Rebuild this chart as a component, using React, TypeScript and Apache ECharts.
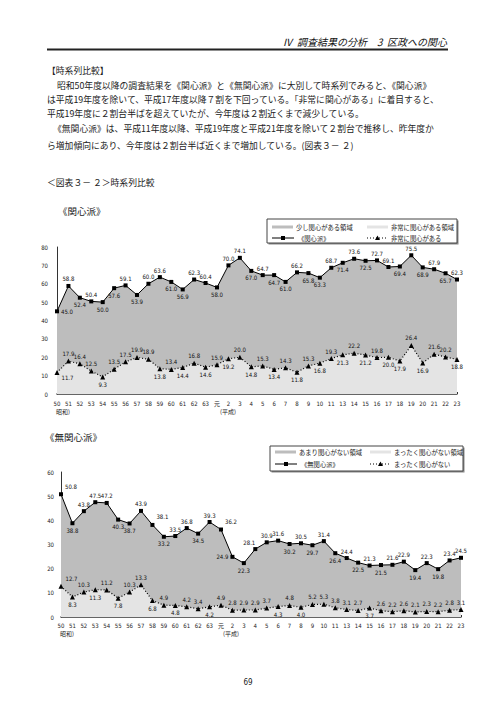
import React, { useEffect, useRef } from 'react';
import * as echarts from 'echarts';

const categories = ['50','51','52','53','54','55','56','57','58','59','60','61','62','63','元','2','3','4','5','6','7','8','9','10','11','13','14','15','16','17','18','19','20','21','22','23'];

const kanshinTotal = [45.0,58.8,52.4,50.4,50.0,57.6,59.1,53.9,60.0,63.6,61.0,56.9,62.3,60.4,58.0,70.0,74.1,67.0,64.7,64.7,61.0,66.2,65.8,63.3,68.7,71.4,73.6,72.5,72.7,69.1,69.4,75.5,68.9,67.9,65.7,62.3];
const hijouniKanshin = [11.7,17.9,16.4,12.5,9.3,13.5,17.5,19.9,18.9,13.8,13.4,14.4,16.8,14.6,15.9,19.2,20.0,14.8,15.3,13.4,14.3,11.8,15.3,16.8,19.3,21.3,22.2,21.2,19.8,20.0,17.9,26.4,16.9,21.6,20.2,18.8];
const mukanshinTotal = [50.8,38.8,43.8,47.5,47.2,40.3,38.7,43.9,38.1,33.2,33.5,36.8,34.5,39.3,36.2,24.9,22.3,28.1,30.9,31.6,30.2,30.5,29.7,31.4,26.4,24.4,22.5,21.3,21.5,21.6,22.9,19.4,22.3,19.8,23.4,24.5];
const mattakuMukanshin = [12.7,8.3,10.3,11.3,11.2,7.8,10.3,13.3,6.8,4.9,4.8,4.2,3.4,4.2,4.9,2.8,2.9,2.9,3.7,4.3,4.8,4.0,5.2,5.3,3.8,3.1,2.7,3.7,2.6,2.2,2.6,2.1,2.3,2.2,2.8,3.1];

// label placement codes, one per point
const posKanshin = 'rtbtb' + 'btbtt' + 'bbttb' + 'ttbtb' + 'btbbt' + 'btbtt' + 'btbtb' + 't';
const posHijouni = 'Rtttb' + 'ttttb' + 'tbtbt' + 'btbtb' + 'tbtbt' + 'btbtb' + 'btbtt' + 'b';
const posMukanshin = 'Ubttt' + 'bbtUb' + 'ttbtU' + 'lbLtt' + 'btbtb' + 'tbtbt' + 'tbtbt' + 't';
const posMattaku = 'Ubtbt' + 'bttbt' + 'bttbt' + 'ttttb' + 'tbttt' + 'ttbtt' + 'ttttt' + 't';

const NUM_FONT = '"DejaVu Sans Condensed", "Liberation Sans Narrow", "Noto Sans CJK JP", sans-serif';
const JP_FONT = '"Noto Sans CJK JP", sans-serif';

function labelFor(code: string) {
  switch (code) {
    case 't': return { position: 'top', offset: [0, 0] };
    case 'b': return { position: 'bottom', offset: [0, 0] };
    case 'r': return { position: 'right', offset: [0, 0] };
    case 'l': return { position: 'left', offset: [0, 0] };
    case 'R': return { position: 'right', offset: [0, 5] };
    case 'U': return { position: 'right', offset: [0, -8] };
    case 'L': return { position: 'top', offset: [-6, 0] };
    default: return { position: 'top', offset: [0, 0] };
  }
}

function buildData(values: number[], codes: string) {
  return values.map((v, i) => {
    const l = labelFor(codes[i]);
    return { value: v, label: { position: l.position, offset: l.offset } };
  });
}

function txt(text: string, x: number, y: number, size: number, extra: any = {}) {
  return {
    type: 'text',
    x, y,
    silent: true,
    style: {
      text,
      fontSize: size,
      fontFamily: JP_FONT,
      fill: '#222',
      textVerticalAlign: 'middle',
      textAlign: 'left',
      ...extra,
    },
  };
}

function legend(x0: number, y0: number, w: number, h: number, t1: string, t2: string, t3: string, t4: string, r1: number, r2: number) {
  const els: any[] = [];
  els.push({ type: 'rect', shape: { x: x0 + 1.5, y: y0 + 1.5, width: w, height: h }, style: { fill: '#888' }, silent: true });
  els.push({ type: 'rect', shape: { x: x0, y: y0, width: w, height: h }, style: { fill: '#fff', stroke: '#444', lineWidth: 1 }, silent: true });
  const ax = x0 + 5;
  const bx = x0 + 100;
  els.push({ type: 'rect', shape: { x: ax, y: r1 - 1.5, width: 21, height: 3 }, style: { fill: '#bdbdbd' }, silent: true });
  els.push(txt(t1, ax + 24, r1, 6.3));
  els.push({ type: 'rect', shape: { x: bx, y: r1 - 1.5, width: 21, height: 3 }, style: { fill: '#e4e4e4' }, silent: true });
  els.push(txt(t2, bx + 24, r1, 6.3));
  els.push({ type: 'line', shape: { x1: ax, y1: r2, x2: ax + 22, y2: r2 }, style: { stroke: '#000', lineWidth: 1 }, silent: true });
  els.push({ type: 'rect', shape: { x: ax + 9, y: r2 - 2, width: 4, height: 4 }, style: { fill: '#000' }, silent: true });
  els.push(txt(t3, ax + 26, r2, 6.3));
  els.push({ type: 'line', shape: { x1: bx, y1: r2, x2: bx + 21, y2: r2 }, style: { stroke: '#000', lineWidth: 1, lineDash: [1, 2] }, silent: true });
  els.push({ type: 'polygon', shape: { points: [[bx + 10.5, r2 - 2.5], [bx + 13, r2 + 2], [bx + 8, r2 + 2]] }, style: { fill: '#000' }, silent: true });
  els.push(txt(t4, bx + 24, r2, 6.3));
  return els;
}

export default function App() {
  const ref = useRef<HTMLDivElement>(null);
  useEffect(() => {
    if (!ref.current) return;
    const chart = echarts.init(ref.current, undefined, { renderer: 'svg' });

    const axisLabelStyle = { fontSize: 6, fontFamily: NUM_FONT, color: '#222' };
    const seriesLabel = {
      show: true,
      fontSize: 6,
      fontFamily: NUM_FONT,
      color: '#111',
      distance: 2,
      formatter: (p: any) => Number(p.value).toFixed(1),
    };

    const graphic: any[] = [
      txt('Ⅳ  調査結果の分析　3  区政への関心', 447, 41, 10, { textAlign: 'right', fontStyle: 'italic', fill: '#111' }),
      { type: 'line', shape: { x1: 47, y1: 49.5, x2: 448, y2: 49.5 }, style: { stroke: '#222', lineWidth: 1.8 }, silent: true },
      txt('【時系列比較】', 47, 70, 8.8),
      txt('昭和50年度以降の調査結果を《関心派》と《無関心派》に大別して時系列でみると、《関心派》', 57, 85.5, 8.8),
      txt('は平成19年度を除いて、平成17年度以降７割を下回っている。「非常に関心がある」に着目すると、', 47, 99, 8.8),
      txt('平成19年度に２割台半ばを超えていたが、今年度は２割近くまで減少している。', 47, 113, 8.8),
      txt('《無関心派》は、平成11年度以降、平成19年度と平成21年度を除いて２割台で推移し、昨年度か', 53, 128, 8.8),
      txt('ら増加傾向にあり、今年度は２割台半ば近くまで増加している。(図表３－ ２)', 47, 145, 8.8),
      txt('＜図表３－ ２＞時系列比較', 47, 182, 8.8),
      txt('《関心派》', 58, 211, 9.5),
      txt('《無関心派》', 45, 437, 9.5),
      txt('昭和)', 56, 411, 6, { fontFamily: JP_FONT }),
      txt('(平成)', 220, 411, 6, { fontFamily: JP_FONT }),
      txt('昭和)', 60, 633, 6, { fontFamily: JP_FONT }),
      txt('(平成)', 223, 633, 6, { fontFamily: JP_FONT }),
      txt('69', 248, 682, 8, { textAlign: 'center', fontFamily: NUM_FONT }),
      ...legend(267, 219, 190, 24, '少し関心がある領域', '非常に関心がある領域', '《関心派》', '非常に関心がある', 227, 238),
      ...legend(270, 446, 193, 25, 'あまり関心がない領域', 'まったく関心がない領域', '《無関心派》', 'まったく関心がない', 452, 464),
    ];

    const xAxisBase = (gi: number, margin: number) => ({
      type: 'category',
      gridIndex: gi,
      data: categories,
      boundaryGap: false,
      axisLine: { show: true, lineStyle: { color: '#333', width: 1.5 } },
      axisTick: { show: true, inside: true, length: 2, interval: 0, lineStyle: { color: '#333' } },
      axisLabel: { ...axisLabelStyle, interval: 0, margin },
      splitLine: { show: false },
    });

    const yAxisBase = (gi: number, max: number, margin: number) => ({
      type: 'value',
      gridIndex: gi,
      min: 0,
      max,
      interval: 10,
      axisLine: { show: true, lineStyle: { color: '#333', width: 1 } },
      axisTick: { show: false },
      axisLabel: { ...axisLabelStyle, margin },
      splitLine: { show: false },
    });

    chart.setOption({
      animation: false,
      backgroundColor: '#fff',
      grid: [
        { left: 57, right: 39, top: 247, bottom: 308 },
        { left: 61, right: 35, top: 472, bottom: 85 },
      ],
      xAxis: [xAxisBase(0, 6), xAxisBase(1, 5)],
      yAxis: [yAxisBase(0, 80, 9), yAxisBase(1, 60, 7)],
      series: [
        {
          name: '《関心派》',
          type: 'line',
          xAxisIndex: 0, yAxisIndex: 0,
          data: buildData(kanshinTotal, posKanshin),
          symbol: 'rect', symbolSize: 4,
          itemStyle: { color: '#000' },
          lineStyle: { color: '#000', width: 1 },
          areaStyle: { color: '#bdbdbd', opacity: 1 },
          label: seriesLabel,
          z: 2,
        },
        {
          name: '非常に関心がある',
          type: 'line',
          xAxisIndex: 0, yAxisIndex: 0,
          data: buildData(hijouniKanshin, posHijouni),
          symbol: 'triangle', symbolSize: 5,
          itemStyle: { color: '#000' },
          lineStyle: { color: '#000', width: 1.2, type: [1, 2] },
          areaStyle: { color: '#e4e4e4', opacity: 1 },
          label: seriesLabel,
          z: 3,
        },
        {
          name: '《無関心派》',
          type: 'line',
          xAxisIndex: 1, yAxisIndex: 1,
          data: buildData(mukanshinTotal, posMukanshin),
          symbol: 'rect', symbolSize: 4,
          itemStyle: { color: '#000' },
          lineStyle: { color: '#000', width: 1 },
          areaStyle: { color: '#bdbdbd', opacity: 1 },
          label: seriesLabel,
          z: 2,
        },
        {
          name: 'まったく関心がない',
          type: 'line',
          xAxisIndex: 1, yAxisIndex: 1,
          data: buildData(mattakuMukanshin, posMattaku),
          symbol: 'triangle', symbolSize: 5,
          itemStyle: { color: '#000' },
          lineStyle: { color: '#000', width: 1.2, type: [1, 2] },
          areaStyle: { color: '#e4e4e4', opacity: 1 },
          label: seriesLabel,
          z: 3,
        },
      ],
      graphic,
    });

    return () => chart.dispose();
  }, []);

  return <div ref={ref} style={{ position: 'absolute', left: 0, top: 0, width: 496, height: 702 }} />;
}
